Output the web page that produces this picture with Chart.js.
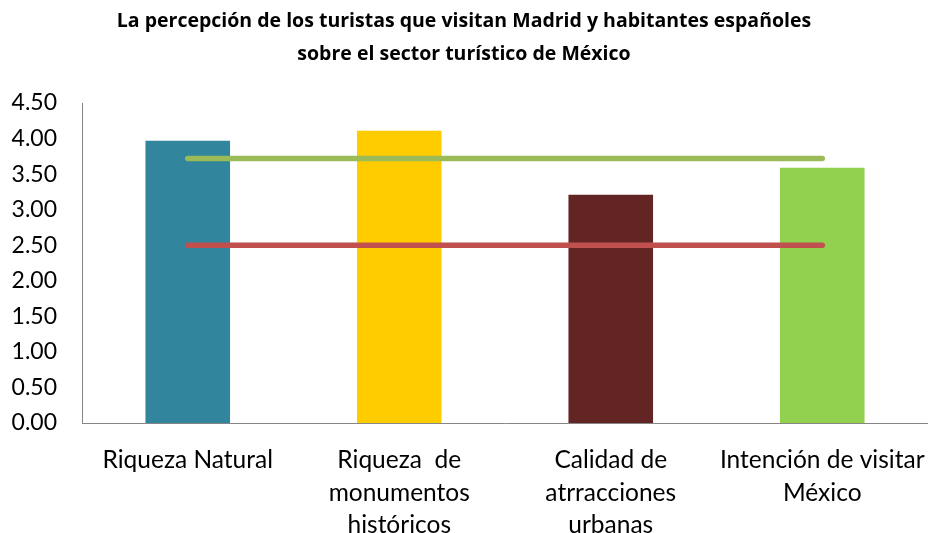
<!DOCTYPE html>
<html>
<head>
<meta charset="utf-8">
<script src="https://cdn.jsdelivr.net/npm/chart.js@4.4.1/dist/chart.umd.min.js"></script>
<style>
  html, body { margin: 0; padding: 0; background: #ffffff; }
  #wrap { width: 928px; height: 533px; }
</style>
</head>
<body>
<div id="wrap"><canvas id="chart" width="928" height="533"></canvas></div>
<script>
// Categories and scores (scale 0–4.5)
const categories = [
  ["Riqueza Natural"],
  ["Riqueza  de", "monumentos", "históricos"],
  ["Calidad de", "atrracciones", "urbanas"],
  ["Intención de visitar", "México"]
];
const scores = [3.97, 4.11, 3.21, 3.59];
const barColors = ["#31859C", "#FFCC00", "#632523", "#92D050"];
const referenceHigh = [3.72, 3.72, 3.72, 3.72];
const referenceLow = [2.50, 2.50, 2.50, 2.50];
const yTicks = [0, 0.5, 1, 1.5, 2, 2.5, 3, 3.5, 4, 4.5];

const titleLines = [
  "La percepción de los turistas que visitan Madrid y habitantes españoles",
  "sobre el sector turístico de México"
];

const FONT = "Lato, 'Open Sans', 'Liberation Sans', sans-serif";
const TITLE_FONT = "'Open Sans', Lato, 'Liberation Sans', sans-serif";

new Chart(document.getElementById("chart"), {
  data: {
    labels: categories,
    datasets: [
      {
        type: "line",
        data: referenceHigh,
        borderColor: "#9BBB59",
        borderWidth: 5.5,
        borderCapStyle: "round",
        pointRadius: 0,
        pointHoverRadius: 0,
        fill: false,
        order: 1
      },
      {
        type: "line",
        data: referenceLow,
        borderColor: "#C0504D",
        borderWidth: 5.5,
        borderCapStyle: "round",
        pointRadius: 0,
        pointHoverRadius: 0,
        fill: false,
        order: 1
      },
      {
        type: "bar",
        data: scores,
        backgroundColor: barColors,
        borderWidth: 0,
        categoryPercentage: 1.0,
        barPercentage: 0.4,
        order: 2
      }
    ]
  },
  options: {
    responsive: false,
    animation: false,
    events: [],
    layout: { padding: { left: 0, right: 0, top: 0, bottom: 0 } },
    plugins: {
      legend: { display: false },
      tooltip: { enabled: false },
      title: {
        display: true,
        text: titleLines,
        color: "#000000",
        font: { family: TITLE_FONT, size: 19.5, weight: "bold", lineHeight: 33 / 19.5 },
        padding: { top: 5, bottom: 32 }
      }
    },
    scales: {
      x: {
        offset: true,
        grid: { display: false, drawTicks: false },
        border: { display: true, color: "#868686", width: 1 },
        ticks: {
          color: "#000000",
          font: { family: FONT, size: 24.5, lineHeight: 32.5 / 24.5 },
          padding: 21,
          maxRotation: 0,
          autoSkip: false
        },
        afterFit: (scale) => {
          scale.height = 110;
          scale.paddingLeft = 0;
          scale.paddingRight = 0;
        }
      },
      y: {
        min: 0,
        max: 4.5,
        grid: { display: false, drawTicks: false },
        border: { display: true, color: "#868686", width: 1 },
        afterBuildTicks: (scale) => {
          scale.ticks = yTicks.map(v => ({ value: v }));
        },
        ticks: {
          color: "#000000",
          font: { family: FONT, size: 23 },
          padding: 25,
          callback: (v) => Number(v).toFixed(2)
        },
        afterFit: (scale) => {
          scale.width = 82;
        }
      }
    }
  }
});
</script>
</body>
</html>
